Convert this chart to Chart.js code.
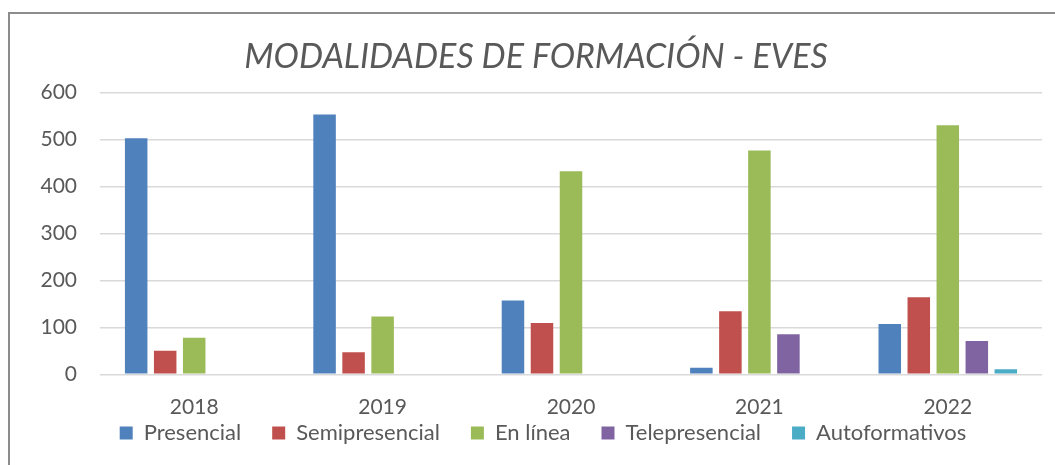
<!DOCTYPE html>
<html>
<head>
<meta charset="utf-8">
<script src="https://cdn.jsdelivr.net/npm/chart.js@4.4.1/dist/chart.umd.min.js"></script>
<style>
  html, body { margin: 0; padding: 0; background: #ffffff; overflow: hidden; }
  #frame { position: absolute; left: 8px; top: 12px; width: 1100px; height: 500px;
           border: 2px solid #8c8c8c; box-sizing: border-box; }
  #wrap { position: absolute; left: 0; top: 0; width: 1055px; height: 465px; }
</style>
</head>
<body>
<div id="frame"></div>
<div id="wrap"><canvas id="c" width="1055" height="465"></canvas></div>
<script>
const chartTitle = 'MODALIDADES DE FORMACIÓN - EVES';
const categories = ['2018', '2019', '2020', '2021', '2022'];
const seriesNames = ['Presencial', 'Semipresencial', 'En línea', 'Telepresencial', 'Autoformativos'];
const presencial = [502, 553, 157, 14, 107];
const semipresencial = [50, 47, 109, 134, 164];
const enLinea = [78, 123, 432, 476, 530];
const telepresencial = [null, null, null, 85, 71];
const autoformativos = [null, null, null, null, 11];
const yTicks = [0, 100, 200, 300, 400, 500, 600];
const colors = ['#4F81BD', '#C0504D', '#9BBB59', '#8064A2', '#4BACC6'];

const seriesValues = [presencial, semipresencial, enLinea, telepresencial, autoformativos];
const FONT = 'Lato, "Open Sans", sans-serif';
const TXT = '#595959';

// nudges the legend block to where the reference places it
const legendShift = {
  id: 'legendShift',
  afterLayout(chart) {
    const lg = chart.legend;
    if (!lg) return;
    const dx = 7, dy = -48.5;
    lg.left += dx; lg.right += dx;
    lg.top += dy; lg.bottom += dy;
  }
};

new Chart(document.getElementById('c'), {
  type: 'bar',
  data: {
    labels: categories,
    datasets: seriesNames.map((n, i) => ({
      label: n,
      data: seriesValues[i],
      backgroundColor: colors[i],
      borderWidth: 0,
      barPercentage: 0.776,
      categoryPercentage: 0.77
    }))
  },
  plugins: [legendShift],
  options: {
    responsive: false,
    animation: false,
    devicePixelRatio: 1,
    layout: { padding: { left: 30, right: 13, top: 0, bottom: -37.5 } },
    plugins: {
      tooltip: { enabled: false },
      title: {
        display: true,
        text: chartTitle,
        color: TXT,
        font: { family: FONT, size: 34, style: 'italic', weight: 'normal', lineHeight: 1.2 },
        padding: { top: 37, bottom: 14.5 }
      },
      legend: {
        position: 'bottom',
        labels: {
          color: TXT,
          font: { family: FONT, size: 22 },
          boxWidth: 13,
          boxHeight: 13,
          padding: 31
        }
      }
    },
    scales: {
      x: {
        grid: { display: false, drawTicks: false },
        border: { display: false },
        ticks: { color: TXT, font: { family: FONT, size: 21 }, padding: 20, maxRotation: 0 }
      },
      y: {
        min: 0, max: 600,
        afterBuildTicks: (s) => { s.ticks = yTicks.map(v => ({ value: v })); },
        grid: { color: '#d9d9d9', lineWidth: 1.5, drawTicks: false },
        border: { display: false },
        ticks: { color: TXT, font: { family: FONT, size: 21 }, padding: 23 },
        afterFit: (s) => { s.width = 70; }
      }
    }
  }
});
</script>
</body>
</html>
